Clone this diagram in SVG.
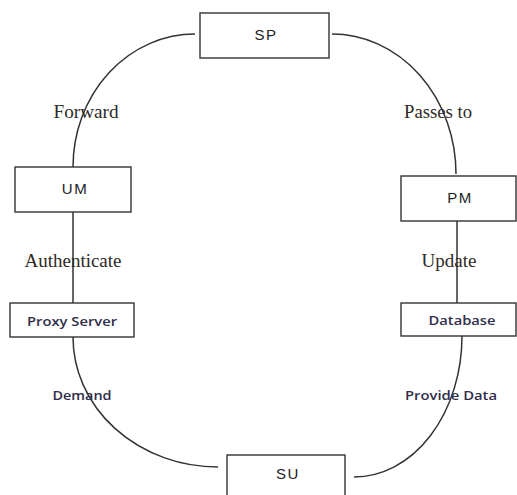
<svg xmlns="http://www.w3.org/2000/svg" width="517" height="495" viewBox="0 0 517 495">
<style>
.box{fill:#fff;stroke:#333;stroke-width:1.4}
.edge{fill:none;stroke:#333;stroke-width:1.5}
.nt{font-family:"Liberation Sans",Arial,sans-serif;font-size:15px;fill:#222;text-anchor:middle;letter-spacing:1.5px}
.st{font-family:"Open Sans","Noto Sans",sans-serif;font-size:13px;fill:#2f2d4a;text-anchor:middle;font-weight:600}
.lt{font-family:"Liberation Serif","Times New Roman",serif;font-size:18px;fill:#2e2a26;text-anchor:middle}
</style>
<rect width="517" height="495" fill="#fff"/>
<g id="connectors">
<path class="edge" d="M195,34 A122,133 0 0 0 73,167"/>
<path class="edge" d="M332,34 A124,140 0 0 1 456,174"/>
<path class="edge" d="M73,212 L73,303"/>
<path class="edge" d="M457,221 L457,303"/>
<path class="edge" d="M73,337 A145,130 0 0 0 218,467"/>
<path class="edge" d="M462,336 A108,141 0 0 1 354,477"/>
</g>
<g id="labels">
<text class="lt" x="86" y="118" textLength="65" lengthAdjust="spacingAndGlyphs">Forward</text>
<text class="lt" x="438" y="118" textLength="68" lengthAdjust="spacingAndGlyphs">Passes to</text>
<text class="lt" x="73" y="267" textLength="97" lengthAdjust="spacingAndGlyphs">Authenticate</text>
<text class="lt" x="449" y="267" textLength="55" lengthAdjust="spacingAndGlyphs">Update</text>
<text class="st" x="82" y="400" textLength="59" lengthAdjust="spacingAndGlyphs">Demand</text>
<text class="st" x="451" y="400" textLength="92" lengthAdjust="spacingAndGlyphs">Provide Data</text>
</g>
<g id="SP"><rect class="box" x="200" y="13" width="129" height="45"/><text class="nt" x="266" y="40">SP</text></g>
<g id="UM"><rect class="box" x="15" y="167" width="116" height="45"/><text class="nt" x="75" y="194">UM</text></g>
<g id="PM"><rect class="box" x="401" y="176" width="115" height="45"/><text class="nt" x="460" y="203">PM</text></g>
<g id="ProxyServer"><rect class="box" x="10" y="303" width="124" height="34"/><text class="st" x="72" y="326" textLength="90" lengthAdjust="spacingAndGlyphs">Proxy Server</text></g>
<g id="Database"><rect class="box" x="401" y="303" width="115" height="33"/><text class="st" x="462" y="325" textLength="67" lengthAdjust="spacingAndGlyphs">Database</text></g>
<g id="SU"><rect class="box" x="227" y="455" width="118" height="50"/><text class="nt" x="288" y="479">SU</text></g>
</svg>
